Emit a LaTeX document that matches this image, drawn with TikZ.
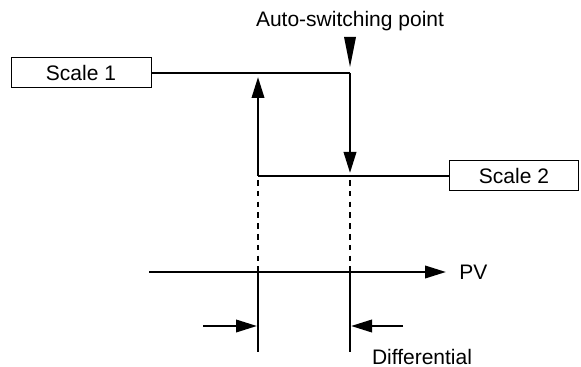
\documentclass[tikz,border=0pt]{standalone}
\usepackage{fontspec}
\setmainfont{Liberation Sans}
\usepackage{tikz}
\usetikzlibrary{arrows.meta, positioning}

\begin{document}
\begin{tikzpicture}[x=0.5pt, y=-0.5pt,
    >={Triangle[length=10.5pt, width=6.2pt]},
    font=\fontsize{10.5}{12}\selectfont,
    scalebox/.style={draw, line width=0.5pt, minimum width=70pt, minimum height=15pt, inner sep=0pt},
    curve/.style={line width=1.2pt},
    guide/.style={line width=1.1pt, dash pattern=on 2.8pt off 2.6pt}]

    \useasboundingbox (0,0) rectangle (581,367);

    % =================================================================
    % CAC O NHAN THANG DO
    % =================================================================
    \node[scalebox] (scale1) at (81,73) {Scale 1};
    \node[scalebox, minimum width=64.5pt] (scale2) at (514,176) {Scale 2};

    % =================================================================
    % TOA DO CAC DIEM CHUYEN
    % =================================================================
    \coordinate (sw_top) at (350,73);
    \coordinate (sw_tip) at (350,173);
    \coordinate (ret_bot) at (258,176);
    \coordinate (ret_tip) at (258,77);

    % Diem chuyen tu dong (tam giac)
    \fill (344,37) -- (356,37) -- (350,67) -- cycle;
    \node (autolabel) at (350,21) {Auto-switching point};

    % =================================================================
    % DUONG CHUYEN THANG DO
    % =================================================================
    \draw[curve] (scale1.east) -- (sw_top);
    \draw[curve, ->] (sw_top) -- (sw_tip);
    \draw[curve] (scale2.west) -- (ret_bot);
    \draw[curve, ->] (ret_bot) -- (ret_tip);

    % =================================================================
    % TRUC PV VA VACH DONG
    % =================================================================
    \coordinate (pv_start) at (149,272);
    \coordinate (pv_end) at (446,272);
    \coordinate (lo_dash) at (258,180);
    \coordinate (hi_dash) at (350,180);
    \coordinate (lo_axis) at (258,272);
    \coordinate (hi_axis) at (350,272);
    \coordinate (lo_foot) at (258,352);
    \coordinate (hi_foot) at (350,352);

    \draw[guide] (lo_dash) -- (lo_axis);
    \draw[guide] (hi_dash) -- (hi_axis);

    \draw[curve, ->] (pv_start) -- (pv_end);
    \node[right=6.5pt of pv_end, inner sep=0pt] (pv) {PV};

    \draw[curve] (lo_axis) -- (lo_foot);
    \draw[curve] (hi_axis) -- (hi_foot);

    % =================================================================
    % MUI TEN DO SAI LECH
    % =================================================================
    \coordinate (lo_tail) at (203,326);
    \coordinate (lo_mid) at (257,326);
    \coordinate (hi_tail) at (403,326);
    \coordinate (hi_mid) at (351,326);
    \draw[curve, ->] (lo_tail) -- (lo_mid);
    \draw[curve, ->] (hi_tail) -- (hi_mid);
    \node (diff) at (422,357) {Differential};

\end{tikzpicture}
\end{document}
